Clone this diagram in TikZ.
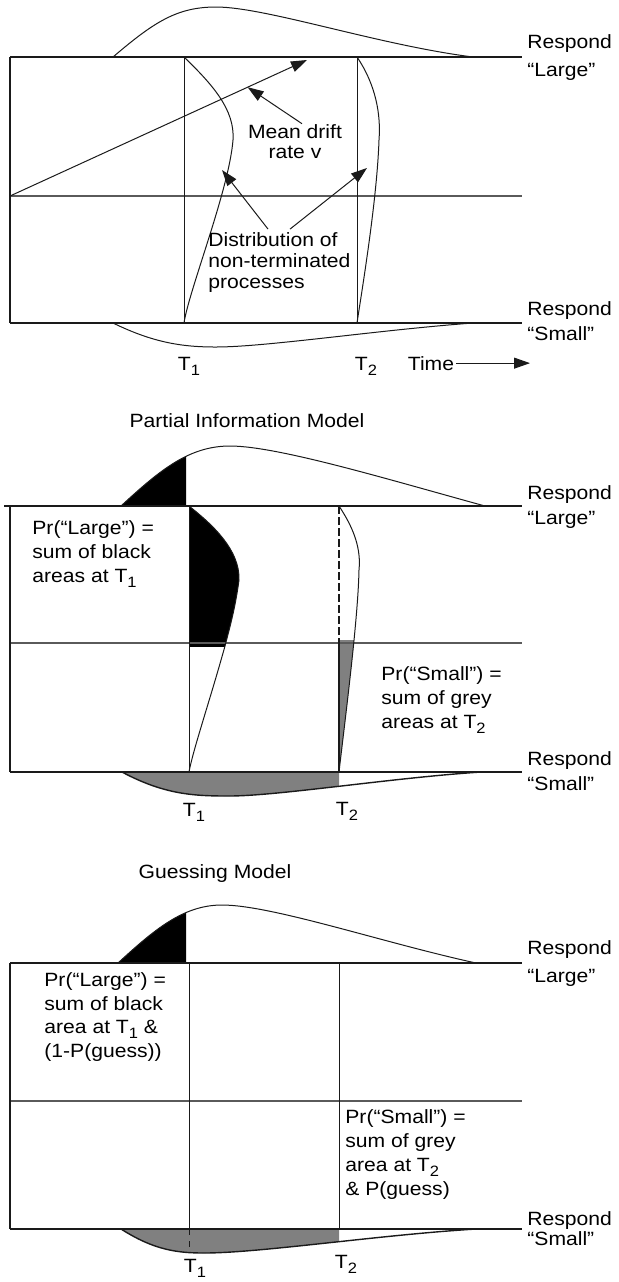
\documentclass[tikz,border=0pt]{standalone}
\usepackage{fontspec}
\setmainfont{Liberation Sans}[FakeStretch=1.1]
\usepackage{tikz}
\usetikzlibrary{arrows.meta,positioning,calc}
\definecolor{ink}{HTML}{1A1A1A}
\definecolor{rulegray}{HTML}{5A5A5A}
\definecolor{areagray}{HTML}{808080}
\newcommand{\Tsb}[1]{T\raisebox{-2.6pt}{\fontsize{7.5}{8}\selectfont #1}}
\tikzset{
  boundline/.style={draw=ink, line width=0.7pt},
  midline/.style={draw=rulegray, line width=0.6pt},
  timeline/.style={draw=ink, line width=0.5pt},
  density/.style={draw=ink, line width=0.5pt},
  respnote/.style={anchor=base west, inner sep=0pt, font=\fontsize{9.6}{11}\selectfont},
  areanote/.style={anchor=base west, inner sep=0pt, align=left, font=\fontsize{9.6}{11.8}\selectfont},
  ticknote/.style={anchor=base, inner sep=0pt, font=\fontsize{9.6}{11}\selectfont},
  panelttl/.style={anchor=base, inner sep=0pt, font=\fontsize{9.6}{11}\selectfont},
  bigtip/.style={-{Triangle[length=8pt,width=5.5pt]}, draw=ink, line width=0.5pt}
}

\begin{document}
\begin{tikzpicture}[x=0.5pt,y=-0.5pt]
  \useasboundingbox (0,0) rectangle (618,1282);

  % diffusion panel
  \draw[boundline] (10,57) -- (522,57);
  \draw[midline] (10,196) -- (522,196);
  \draw[boundline] (10,323) -- (522,323);
  \draw[boundline] (10,57) -- (10,323);
  \draw[timeline] (184,57) -- (184,323);
  \draw[timeline] (357,57) -- (357,323);
  \draw[density] (113,57) .. controls (154,22) and (177,7) .. (216,7)
    .. controls (266,7) and (378,45) .. (473,57);
  \draw[density] (113,323) .. controls (154,343) and (183,347) .. (216,347)
    .. controls (266,347) and (378,330) .. (473,323);
  \draw[density] (184,57) .. controls (213,85) and (235,110) .. (233,140)
    .. controls (229,190) and (189,290) .. (184,323);
  \draw[density] (357,57) .. controls (376,85) and (381,115) .. (379,140)
    .. controls (377,200) and (362,290) .. (357,323);
  \coordinate (dstart) at (10,196);
  \coordinate (dend) at (307,60);
  \coordinate (drifthit) at ($(dstart)!0.8!(dend)$);
  \coordinate (t1hit) at (222,170);
  \coordinate (t2hit) at (367,168);
  \draw[bigtip] (dstart) -- (dend);
  \node[areanote,anchor=base,align=center,font=\fontsize{9.6}{10}\selectfont] (meandrift) at (295,158)
    {Mean drift\\rate v};
  \draw[bigtip] ([xshift=3.5pt]meandrift.north) -- (drifthit);
  \node[areanote,font=\fontsize{9.6}{10.3}\selectfont] (distnote) at (208,288)
    {Distribution of\\non-terminated\\processes};
  \draw[bigtip] ([xshift=-5.7pt,yshift=1.7pt]distnote.north) -- (t1hit);
  \draw[bigtip] ([xshift=5.3pt,yshift=1.7pt]distnote.north) -- (t2hit);
  \node[respnote] (resp1) at (527,48) {Respond};
  \node[respnote] (lrg1) at (527,76) {“Large”};
  \node[respnote] (resp2) at (527,315) {Respond};
  \node[respnote] (sml1) at (527,340) {“Small”};
  \node[ticknote] (t1a) at (189,370) {\Tsb{1}};
  \node[ticknote] (t2a) at (366,370) {\Tsb{2}};
  \node[ticknote] (timenote) at (431,370) {Time};
  \coordinate (timeend) at (530,363);
  \draw[bigtip,shorten <=1pt] (timenote.east) -- (timenote.east -| timeend);

  % partial information panel
  \node[panelttl] (pimttl) at (247,427) {Partial Information Model};
  \begin{scope}
    \clip (0,400) rectangle (186,506);
    \fill[black] (121,506) .. controls (160,470) and (189,446) .. (230,446)
      .. controls (278,446) and (390,480) .. (485,506) -- cycle;
  \end{scope}
  \begin{scope}
    \clip (189,500) rectangle (310,646);
    \fill[black] (189,506) .. controls (213,525) and (240,550) .. (239,580)
      .. controls (235,610) and (229,630) .. (225,646)
      .. controls (213,690) and (193,750) .. (189,772) -- cycle;
  \end{scope}
  \begin{scope}
    \clip (339,640) rectangle (390,772);
    \fill[areagray] (339,506) .. controls (355,530) and (361,550) .. (359,570)
      .. controls (358,620) and (345,720) .. (339,772) -- cycle;
  \end{scope}
  \begin{scope}
    \clip (0,772) rectangle (339,820);
    \fill[areagray] (122,772) .. controls (165,795) and (195,796) .. (229,796)
      .. controls (278,796) and (390,778) .. (481,772) -- cycle;
  \end{scope}
  \draw[boundline] (4,506) -- (522,506);
  \draw[midline] (10,643) -- (522,643);
  \draw[rulegray,line width=1pt] (138,643) -- (252,643);
  \draw[boundline,line width=1pt] (10,772) -- (522,772);
  \draw[boundline] (10,506) -- (10,772);
  \draw[timeline] (189,506) -- (189,772);
  \draw[timeline,line width=0.8pt,dash pattern=on 4pt off 1.5pt] (339,506) -- (339,643);
  \draw[timeline,line width=0.8pt] (339,643) -- (339,772);
  \draw[density] (121,506) .. controls (160,470) and (189,446) .. (230,446)
    .. controls (278,446) and (390,480) .. (485,506);
  \draw[density,line width=0.7pt] (122,772) .. controls (165,795) and (195,796) .. (229,796)
    .. controls (278,796) and (390,778) .. (481,772);
  \draw[density] (189,506) .. controls (213,525) and (240,550) .. (239,580)
    .. controls (235,610) and (229,630) .. (225,646)
    .. controls (210,700) and (193,750) .. (189,772);
  \draw[density] (339,506) .. controls (355,530) and (361,550) .. (359,570)
    .. controls (358,620) and (345,720) .. (339,772);
  \node[areanote] (prlarge) at (32,582)
    {Pr(“Large”) =\\sum of black\\areas at \Tsb{1}};
  \node[areanote,font=\fontsize{9.6}{12}\selectfont] (prsmall) at (381,728)
    {Pr(“Small”) =\\sum of grey\\areas at \Tsb{2}};
  \node[respnote] (resp3) at (527,499) {Respond};
  \node[respnote] (lrg2) at (527,524) {“Large”};
  \node[respnote] (resp4) at (527,765) {Respond};
  \node[respnote] (sml2) at (527,790) {“Small”};
  \node[ticknote] (t1b) at (194,816) {\Tsb{1}};
  \node[ticknote] (t2b) at (347,815) {\Tsb{2}};

  % guessing panel
  \node[panelttl] (gmttl) at (215,878) {Guessing Model};
  \begin{scope}
    \clip (0,880) rectangle (186,963);
    \fill[black] (118,963) .. controls (154,930) and (183,905) .. (222,905)
      .. controls (272,905) and (384,943) .. (476,963) -- cycle;
  \end{scope}
  \begin{scope}
    \clip (0,1229) rectangle (339,1270);
    \fill[areagray] (121,1229) .. controls (154,1250) and (177,1253) .. (204,1253)
      .. controls (260,1253) and (378,1235) .. (476,1229) -- cycle;
  \end{scope}
  \draw[boundline] (10,963) -- (522,963);
  \draw[midline] (10,1101) -- (522,1101);
  \draw[boundline,line width=1pt] (10,1229) -- (522,1229);
  \draw[boundline] (10,963) -- (10,1229);
  \draw[timeline] (189,963) -- (189,1229);
  \draw[timeline,dashed] (189,1229) -- (189,1250);
  \draw[timeline] (339,963) -- (339,1229);
  \draw[density] (118,963) .. controls (154,930) and (183,905) .. (222,905)
    .. controls (272,905) and (384,943) .. (476,963);
  \draw[density,line width=0.7pt] (121,1229) .. controls (154,1250) and (177,1253) .. (204,1253)
    .. controls (260,1253) and (378,1235) .. (476,1229);
  \node[areanote,font=\fontsize{9.6}{11.7}\selectfont] (gslarge) at (44,1057)
    {Pr(“Large”) =\\sum of black\\area at \Tsb{1} \&\\(1-P(guess))};
  \node[areanote,font=\fontsize{9.6}{12}\selectfont] (gssmall) at (345,1195)
    {Pr(“Small”) =\\sum of grey\\area at \Tsb{2}\\\& P(guess)};
  \node[respnote] (resp5) at (527,954) {Respond};
  \node[respnote] (lrg3) at (527,982) {“Large”};
  \node[respnote] (resp6) at (527,1225) {Respond};
  \node[respnote] (sml3) at (527,1245) {“Small”};
  \node[ticknote] (t1c) at (195,1272) {\Tsb{1}};
  \node[ticknote] (t2c) at (346,1268) {\Tsb{2}};
\end{tikzpicture}
\end{document}
